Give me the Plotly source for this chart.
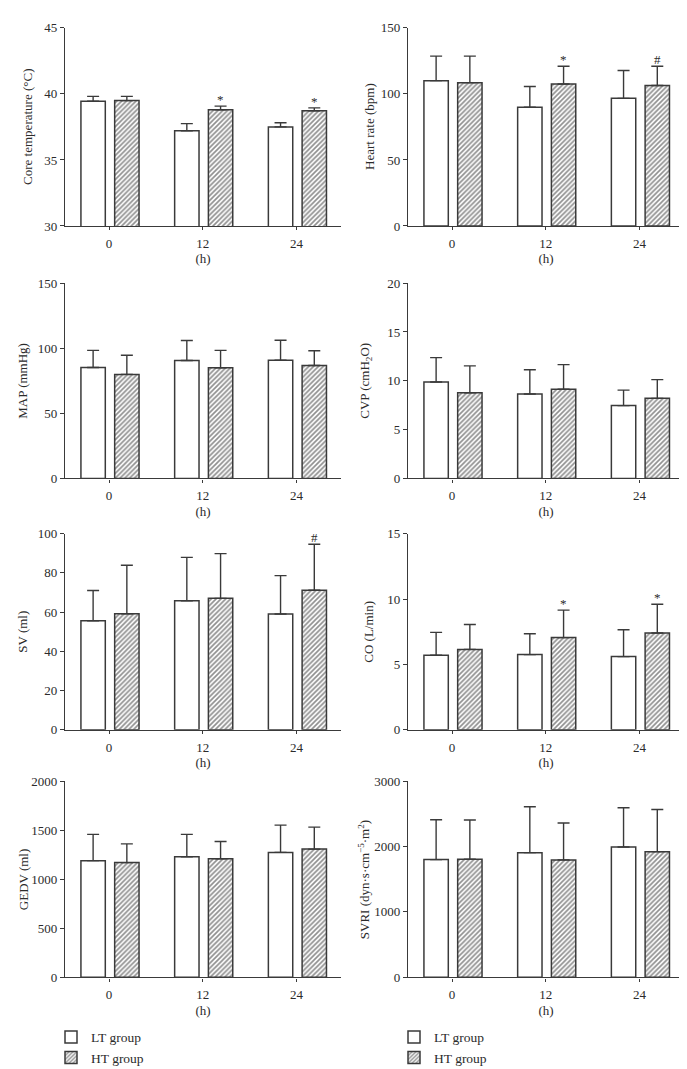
import plotly.graph_objects as go

# ---------------- data ----------------
times = ["0", "12", "24"]

core_lt = [39.44, 37.20, 37.50]
core_lt_sd = [0.37, 0.55, 0.32]
core_ht = [39.49, 38.79, 38.72]
core_ht_sd = [0.32, 0.28, 0.22]
core_sig = ["", "*", "*"]

hr_lt = [110.0, 89.9, 96.6]
hr_lt_sd = [18.6, 15.7, 21.1]
hr_ht = [108.5, 107.5, 106.3]
hr_ht_sd = [20.1, 13.4, 14.6]
hr_sig = ["", "*", "#"]

map_lt = [85.2, 90.6, 90.8]
map_lt_sd = [13.2, 15.4, 15.4]
map_ht = [79.9, 85.0, 86.8]
map_ht_sd = [14.7, 13.4, 11.3]
map_sig = ["", "", ""]

cvp_lt = [9.88, 8.64, 7.46]
cvp_lt_sd = [2.49, 2.49, 1.58]
cvp_ht = [8.77, 9.14, 8.20]
cvp_ht_sd = [2.76, 2.52, 1.92]
cvp_sig = ["", "", ""]

sv_lt = [55.6, 65.8, 59.0]
sv_lt_sd = [15.4, 22.1, 19.6]
sv_ht = [59.1, 67.0, 71.2]
sv_ht_sd = [24.8, 22.8, 23.4]
sv_sig = ["", "", "#"]

co_lt = [5.70, 5.75, 5.60]
co_lt_sd = [1.75, 1.60, 2.05]
co_ht = [6.15, 7.05, 7.40]
co_ht_sd = [1.90, 2.10, 2.20]
co_sig = ["", "*", "*"]

gedv_lt = [1189, 1229, 1273]
gedv_lt_sd = [268, 228, 278]
gedv_ht = [1169, 1209, 1307]
gedv_ht_sd = [191, 175, 224]
gedv_sig = ["", "", ""]

svri_lt = [1800, 1906, 1992]
svri_lt_sd = [610, 701, 600]
svri_ht = [1805, 1795, 1921]
svri_ht_sd = [600, 565, 645]
svri_sig = ["", "", ""]

group_names = ["LT group", "HT group"]

panels = [
    ("Core temperature (°C)", [30, 45], 5, core_lt, core_lt_sd, core_ht, core_ht_sd, core_sig),
    ("Heart rate (bpm)", [0, 150], 50, hr_lt, hr_lt_sd, hr_ht, hr_ht_sd, hr_sig),
    ("MAP (mmHg)", [0, 150], 50, map_lt, map_lt_sd, map_ht, map_ht_sd, map_sig),
    ("CVP (cmH<sub>2</sub>O)", [0, 20], 5, cvp_lt, cvp_lt_sd, cvp_ht, cvp_ht_sd, cvp_sig),
    ("SV (ml)", [0, 100], 20, sv_lt, sv_lt_sd, sv_ht, sv_ht_sd, sv_sig),
    ("CO (L/min)", [0, 15], 5, co_lt, co_lt_sd, co_ht, co_ht_sd, co_sig),
    ("GEDV (ml)", [0, 2000], 500, gedv_lt, gedv_lt_sd, gedv_ht, gedv_ht_sd, gedv_sig),
    ("SVRI (dyn·s·cm<sup>−5</sup>·m<sup>2</sup>)", [0, 3000], 1000, svri_lt, svri_lt_sd, svri_ht, svri_ht_sd, svri_sig),
]

# ---------------- layout geometry (pixels) ----------------
W, H = 687, 1069
col_px = [(57, 333), (400, 676)]
row_px = [(13, 214), (272, 470), (526, 725), (777, 976)]
title_x_px = [20, 362, 15, 358, 15, 361, 15, 356]

FONT = "Liberation Serif"
TXT = "#2b2b2b"
LINE = "#3a3a3a"
FS = 13

LT_OFF, HT_OFF, BW = -0.30, 0.06, 0.26

fig = go.Figure()
layout = dict(
    width=W, height=H,
    margin=dict(l=0, r=0, t=0, b=0),
    paper_bgcolor="white", plot_bgcolor="white",
    font=dict(family=FONT, size=FS, color=TXT),
    showlegend=True,
    barmode="overlay",
)
annotations = []

for k, (ytitle, yrange, dtick, lt, lt_sd, ht, ht_sd, sig) in enumerate(panels):
    r, c = divmod(k, 2)
    n = k + 1
    xa = "x" if n == 1 else f"x{n}"
    ya = "y" if n == 1 else f"y{n}"
    x0, x1 = col_px[c]
    y0, y1 = row_px[r]
    xdom = [x0 / W, x1 / W]
    ydom = [1 - y1 / H, 1 - y0 / H]

    legend_name = None
    if n == 1:
        legend_name = "legend"
    elif n == 2:
        legend_name = "legend2"

    err_style = dict(type="data", symmetric=False, arrayminus=[0, 0, 0],
                     color=LINE, thickness=1.4, width=6, visible=True)

    fig.add_trace(go.Bar(
        x=times, y=lt, name=group_names[0], xaxis=xa, yaxis=ya,
        offset=LT_OFF, width=BW,
        marker=dict(color="white", line=dict(color=LINE, width=1.5)),
        error_y=dict(array=lt_sd, **err_style),
        showlegend=legend_name is not None,
        legend=legend_name if legend_name else "legend",
    ))
    fig.add_trace(go.Bar(
        x=times, y=ht, name=group_names[1], xaxis=xa, yaxis=ya,
        offset=HT_OFF, width=BW,
        marker=dict(color="white", line=dict(color=LINE, width=1.5),
                    pattern=dict(shape="/", fgcolor="#222222", bgcolor="white",
                                 size=3.4, solidity=0.5, fillmode="overlay")),
        error_y=dict(array=ht_sd, **err_style),
        showlegend=legend_name is not None,
        legend=legend_name if legend_name else "legend",
    ))

    xkey = "xaxis" if n == 1 else f"xaxis{n}"
    ykey = "yaxis" if n == 1 else f"yaxis{n}"
    layout[xkey] = dict(
        domain=xdom, anchor=ya, type="category",
        range=[-0.47, 2.475],
        showline=True, linecolor=LINE, linewidth=1.4,
        ticks="outside", ticklen=3, tickcolor=LINE, tickwidth=1.3,
        ticklabelstandoff=2,
        showgrid=False, zeroline=False,
        tickfont=dict(family=FONT, size=FS, color=TXT),
        title=dict(text="(h)", standoff=4, font=dict(family=FONT, size=FS, color=TXT)),
        fixedrange=True,
    )
    layout[ykey] = dict(
        domain=ydom, anchor=xa, range=yrange, dtick=dtick, tick0=yrange[0],
        showline=True, linecolor=LINE, linewidth=1.4,
        ticks="outside", ticklen=4, tickcolor=LINE, tickwidth=1.3,
        showgrid=False, zeroline=False,
        tickfont=dict(family=FONT, size=FS, color=TXT),
        fixedrange=True,
    )

    # y-axis title as rotated text
    annotations.append(dict(
        xref="paper", yref="paper", x=title_x_px[k] / W, y=(ydom[0] + ydom[1]) / 2,
        text=ytitle, textangle=-90, showarrow=False, xanchor="center", yanchor="middle",
        font=dict(family=FONT, size=FS, color=TXT),
    ))

    # significance marks above HT error bars
    for i, s in enumerate(sig):
        if s:
            annotations.append(dict(
                xref=xa, yref=ya, x=i + HT_OFF + BW / 2, y=ht[i] + ht_sd[i],
                text=s, showarrow=False, xanchor="center", yanchor="bottom",
                yshift=-3, font=dict(family=FONT, size=FS, color=TXT),
            ))

layout["annotations"] = annotations
legend_common = dict(
    xanchor="left", yanchor="top", bgcolor="rgba(0,0,0,0)",
    font=dict(family=FONT, size=13.5, color=TXT),
    tracegroupgap=0, itemclick=False, itemdoubleclick=False,
    orientation="v",
)
layout["legend"] = dict(x=43 / W, y=1 - 1021 / H, **legend_common)
layout["legend2"] = dict(x=386 / W, y=1 - 1021 / H, **legend_common)

fig.update_layout(**layout)
fig.write_html("out.html")
